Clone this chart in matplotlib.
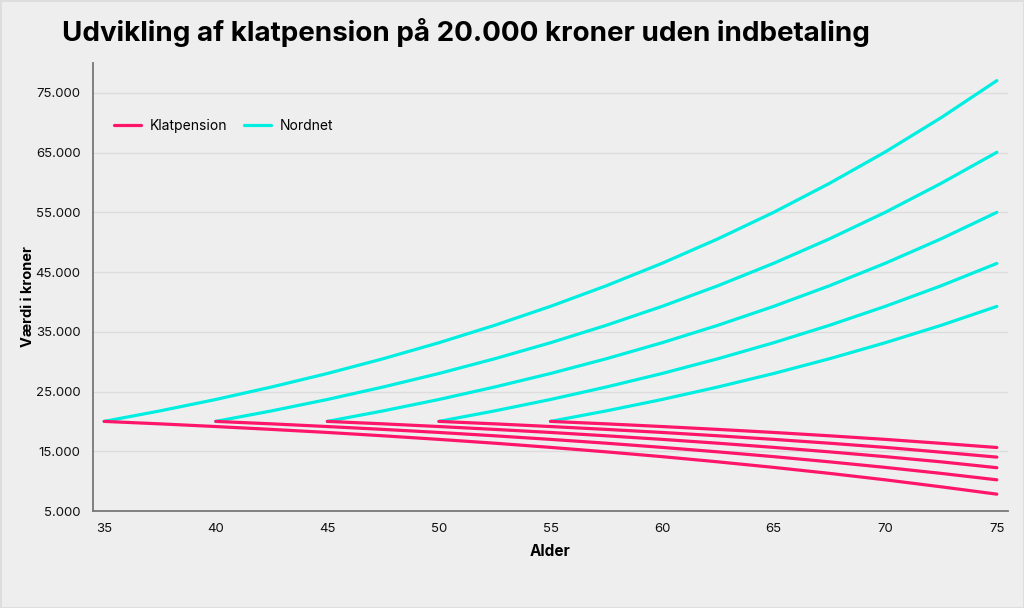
import matplotlib
matplotlib.use("Agg")
import matplotlib.pyplot as plt
from matplotlib.ticker import FuncFormatter

# ages (every 2.5 years) and values (kroner),
# one line per starting age: 35, 40, 45, 50, 55
ages = [35, 37.5, 40, 42.5, 45, 47.5, 50, 52.5, 55, 57.5, 60, 62.5, 65, 67.5, 70, 72.5, 75]

klat_35 = [20000, 19590, 19140, 18660, 18150, 17590, 16990, 16350, 15650,
           14900, 14100, 13230, 12300, 11300, 10220, 9050, 7820]
klat_40 = [20000, 19590, 19140, 18660, 18150, 17590, 16990, 16350, 15650,
           14900, 14100, 13230, 12300, 11300, 10220]
klat_45 = [20000, 19590, 19140, 18660, 18150, 17590, 16990, 16350, 15650,
           14900, 14100, 13230, 12250]
klat_50 = [20000, 19590, 19140, 18660, 18150, 17590, 16990, 16350, 15650,
           14850, 14020]
klat_55 = [20000, 19590, 19140, 18660, 18150, 17590, 16990, 16330, 15630]

nord_35 = [20000, 21760, 23670, 25760, 28020, 30490, 33170, 36090, 39260,
           42710, 46470, 50560, 55000, 59850, 65110, 70840, 77050]
nord_40 = [20000, 21760, 23670, 25760, 28020, 30490, 33170, 36090, 39260,
           42710, 46470, 50560, 55000, 59850, 65050]
nord_45 = [20000, 21760, 23670, 25760, 28020, 30490, 33170, 36090, 39260,
           42710, 46470, 50560, 55000]
nord_50 = [20000, 21760, 23670, 25760, 28020, 30490, 33170, 36090, 39260,
           42700, 46450]
nord_55 = [20000, 21760, 23670, 25760, 28020, 30490, 33170, 36080, 39250]

klat_series = [klat_35, klat_40, klat_45, klat_50, klat_55]
nord_series = [nord_35, nord_40, nord_45, nord_50, nord_55]

PINK = "#ff1569"
CYAN = "#00efe1"
BG = "#eeeeee"

plt.rcParams["font.family"] = ["Inter", "DejaVu Sans"]

fig = plt.figure(figsize=(10.24, 6.08), dpi=100, facecolor=BG)
ax = fig.add_axes([93 / 1024, 1 - 511 / 608, 915 / 1024, 448 / 608])
ax.set_facecolor(BG)

for i, ys in enumerate(nord_series):
    xs = ages[-len(ys):]
    ax.plot(xs, ys, color=CYAN, lw=2.3, solid_capstyle="round",
            label="Nordnet" if i == 0 else None, zorder=3)
for i, ys in enumerate(klat_series):
    xs = ages[-len(ys):]
    ax.plot(xs, ys, color=PINK, lw=2.3, solid_capstyle="round",
            label="Klatpension" if i == 0 else None, zorder=3)

ax.set_xlim(34.5, 75.5)
ax.set_ylim(5000, 80000)
ax.set_xticks(range(35, 76, 5))
ax.set_yticks(range(5000, 75001, 10000))
ax.yaxis.set_major_formatter(FuncFormatter(lambda v, _: f"{int(v):,}".replace(",", ".")))
ax.tick_params(length=0, labelsize=9.5, colors="#111111")
ax.tick_params(axis="y", pad=9)
ax.tick_params(axis="x", pad=9)
ax.grid(axis="y", color="#dcdcdc", lw=1)
ax.set_axisbelow(True)
for s in ["top", "right"]:
    ax.spines[s].set_visible(False)
for s in ["left", "bottom"]:
    ax.spines[s].set_color("#777777")
    ax.spines[s].set_linewidth(1.3)

ax.set_xlabel("Alder", fontsize=11, fontweight="bold", labelpad=6)
ax.set_ylabel("Værdi i kroner", fontsize=10.5, fontweight="bold")
ax.yaxis.set_label_coords(-0.063, 0.478)

h, l = ax.get_legend_handles_labels()
order = [l.index("Klatpension"), l.index("Nordnet")]
ax.legend([h[k] for k in order], [l[k] for k in order], ncol=2, frameon=False,
          loc="center left", bbox_to_anchor=(0.023, 0.859), borderaxespad=0,
          borderpad=0, fontsize=10, handlelength=1.95, handletextpad=0.65,
          columnspacing=1.15)

fig.text(62 / 1024, 1 - 41 / 608, "Udvikling af klatpension på 20.000 kroner uden indbetaling",
         fontsize=20, fontweight="bold", color="black", ha="left", va="baseline")

fig.patches.append(plt.Rectangle((0, 0), 1, 1, transform=fig.transFigure, fill=False,
                                 edgecolor="#dddddd", lw=2))

fig.savefig("out.png", dpi=100, facecolor=BG)
